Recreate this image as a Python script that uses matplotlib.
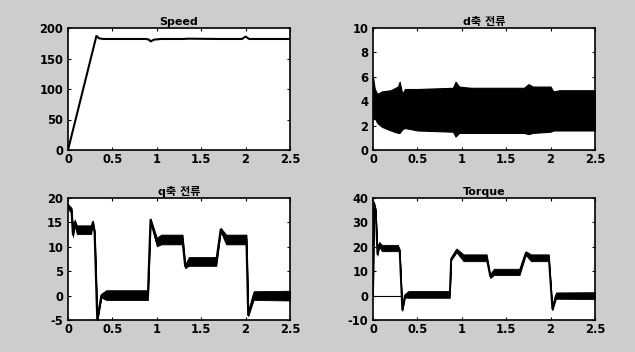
import matplotlib
matplotlib.use("Agg")
import matplotlib.pyplot as plt

plt.rcParams['font.family'] = ['DejaVu Sans', 'Noto Sans CJK KR']

# ---- data ----
x_ticks = [0, 0.5, 1, 1.5, 2, 2.5]
x_ticklabels = ['0', '0.5', '1', '1.5', '2', '2.5']

speed_t = [0, 0.32, 0.35, 0.40, 0.88, 0.91, 0.93, 0.97, 1.05, 1.30, 1.35, 1.70, 1.96, 2.00, 2.04, 2.5]
speed_v = [0, 187, 183, 182, 182, 181, 178, 181, 182, 182, 182.5, 182, 182, 186, 182, 182]

d_t = [0, 0.02, 0.05, 0.10, 0.20, 0.28, 0.30, 0.33, 0.36, 0.50, 0.90, 0.93, 0.97, 1.10,
       1.50, 1.70, 1.75, 1.80, 2.00, 2.03, 2.10, 2.50]
d_upper = [6.0, 5.0, 4.6, 4.8, 4.9, 5.2, 5.6, 4.6, 5.0, 5.0, 5.1, 5.6, 5.2, 5.1,
           5.1, 5.1, 5.4, 5.2, 5.2, 4.8, 4.9, 4.9]
d_lower = [2.5, 2.6, 2.2, 1.9, 1.6, 1.4, 1.4, 1.7, 1.8, 1.6, 1.5, 1.1, 1.4, 1.4,
           1.4, 1.4, 1.3, 1.4, 1.5, 1.6, 1.6, 1.6]

# q-axis current: centre of the noisy band and its half thickness
q_t = [0, 0.01, 0.04, 0.056, 0.075, 0.10, 0.26, 0.28, 0.30, 0.33, 0.376, 0.43, 0.90,
       0.93, 1.00, 1.05, 1.29, 1.32, 1.36, 1.67, 1.72, 1.78, 2.01, 2.03, 2.09, 2.5]
q_v = [18.6, 18.0, 17.5, 12.5, 15.0, 13.5, 13.5, 15.0, 13.0, -5.0, 0.0, 0.1, 0.1,
       15.5, 11.0, 11.5, 11.5, 6.0, 7.0, 7.0, 13.5, 11.5, 11.5, -4.0, 0.0, 0.0]
q_half = [0.3, 0.5, 0.5, 0.5, 0.6, 0.9, 0.9, 0.4, 0.2, 0.2, 0.4, 1.0, 1.0,
          0.3, 0.9, 1.0, 1.0, 0.4, 0.9, 0.9, 0.4, 1.0, 1.0, 0.2, 0.9, 1.0]

# torque: centre of the noisy band and its half thickness
tq_t = [0, 0.01, 0.03, 0.05, 0.07, 0.10, 0.28, 0.30, 0.33, 0.36, 0.40, 0.865, 0.88,
        0.94, 1.02, 1.28, 1.32, 1.36, 1.65, 1.72, 1.78, 1.98, 2.02, 2.06, 2.5]
tq_v = [0, 38, 35, 17, 21, 19.5, 19.5, 18.5, -5.8, 0.0, 0.5, 0.5, 15.0,
        18.5, 15.5, 15.5, 8.0, 9.7, 9.7, 17.4, 15.5, 15.5, -5.5, 0.0, 0.0]
tq_half = [0.3, 0.5, 0.5, 0.6, 1.0, 1.3, 1.3, 0.5, 0.4, 0.8, 1.4, 1.4, 0.5,
           0.8, 1.4, 1.4, 0.8, 1.3, 1.3, 0.8, 1.4, 1.4, 0.5, 1.3, 1.4]
tq_ref_t = [0, 0.30]
tq_ref_v = [0, 0]

fig = plt.figure(figsize=(6.35, 3.52), dpi=100, facecolor='#cdcdcd')

W = 222 / 635
H = 122 / 352
pos = {
    'tl': [68 / 635, (352 - 150) / 352, W, H],
    'tr': [373 / 635, (352 - 150) / 352, W, H],
    'bl': [68 / 635, (352 - 320) / 352, W, H],
    'br': [373 / 635, (352 - 320) / 352, W, H],
}

tick_font = dict(fontsize=8.3, fontweight='bold')


def style(ax, title, yticks, ylim):
    ax.set_facecolor('white')
    ax.set_xlim(0, 2.5)
    ax.set_ylim(*ylim)
    ax.set_xticks(x_ticks)
    ax.set_xticklabels(x_ticklabels, **tick_font)
    ax.set_yticks(yticks)
    ax.set_yticklabels([str(v) for v in yticks], **tick_font)
    ax.tick_params(direction='in', length=2.5, width=0.8, top=True, right=True)
    ax.tick_params(axis='x', pad=2.5)
    ax.tick_params(axis='y', pad=3.5)
    for s in ax.spines.values():
        s.set_linewidth(1.2)
        s.set_color('black')
    ax.set_title(title, fontsize=8, fontweight='bold', pad=2)


def band(ax, t, v, h, lw):
    lo = [a - b for a, b in zip(v, h)]
    hi = [a + b for a, b in zip(v, h)]
    ax.fill_between(t, lo, hi, color='black', lw=0.6, edgecolor='black')
    ax.plot(t, v, color='black', lw=lw)


ax = fig.add_axes(pos['tl'])
ax.plot(speed_t, speed_v, color='black', lw=1.5)
style(ax, 'Speed', [0, 50, 100, 150, 200], (0, 200))

ax = fig.add_axes(pos['tr'])
ax.fill_between(d_t, d_lower, d_upper, color='black', lw=0.8, edgecolor='black')
style(ax, 'd축 전류', [0, 2, 4, 6, 8, 10], (0, 10))

ax = fig.add_axes(pos['bl'])
band(ax, q_t, q_v, q_half, 1.6)
style(ax, 'q축 전류', [-5, 0, 5, 10, 15, 20], (-5, 20))

ax = fig.add_axes(pos['br'])
ax.plot(tq_ref_t, tq_ref_v, color='black', lw=0.8)
band(ax, tq_t, tq_v, tq_half, 1.4)
style(ax, 'Torque', [-10, 0, 10, 20, 30, 40], (-10, 40))

fig.savefig('out.png', dpi=100, facecolor=fig.get_facecolor())
